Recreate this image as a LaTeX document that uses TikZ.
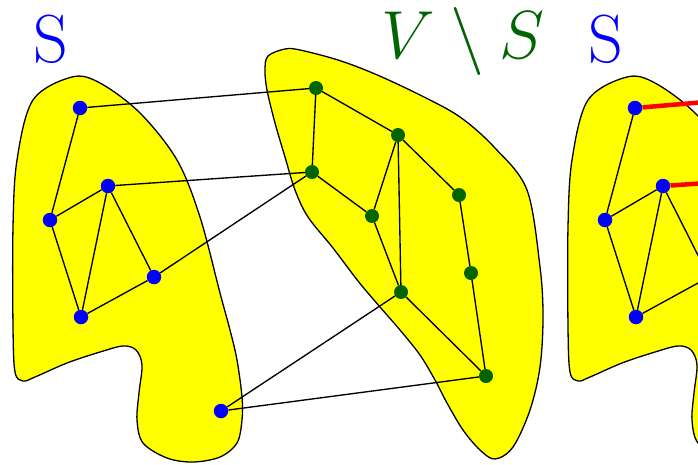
\documentclass[tikz,border=0pt]{standalone}
\usepackage{fix-cm}
\definecolor{sblue}{RGB}{0,0,255}
\definecolor{vgreen}{RGB}{0,100,0}
\definecolor{blobyellow}{RGB}{255,255,0}
\begin{document}
\begin{tikzpicture}[x=1pt,y=-1pt,
  blob/.style={draw=black, fill=blobyellow, line width=1.3pt},
  svert/.style={circle, fill=sblue, inner sep=0pt, minimum size=14.5pt},
  gvert/.style={circle, fill=vgreen, inner sep=0pt, minimum size=14pt},
  link/.style={draw=black, line width=1.35pt},
  cutlink/.style={draw=red, line width=4.5pt},
  lbl/.style={font=\fontsize{68}{80}\selectfont, inner sep=0pt, anchor=base}]

\useasboundingbox (0,0) rectangle (698,464);
\clip (0,0) rectangle (698,464);

\def\Sblobpath{plot[smooth cycle, tension=0.55] coordinates {
  (72,77) (100,83) (140,113) (177,160) (200,217) (220,293) (230,330)
  (237,360) (242,397) (242,420) (237,443) (220,457) (193,462) (167,458)
  (143,443) (137,420) (139,393) (142,365) (136,350) (123,346) (100,352)
  (67,363) (35,377) (23,381) (15,372) (13,327) (13,227) (17,160) (33,100)}}

% blobs
\path[blob] \Sblobpath;
\path[blob] plot[smooth cycle, tension=0.55] coordinates {
  (268,56) (285,49) (300,50) (338,60) (375,74) (420,95) (460,117)
  (495,148) (527,190) (540,267) (543,317) (540,367) (530,410) (513,447)
  (495,459) (480,450) (463,430) (447,403) (435,380) (420,355) (400,330)
  (380,307) (358,281) (333,248) (308,217) (295,190) (285,157) (275,123)
  (267,90) (265,70)};
\begin{scope}[xshift=555pt]
  \path[blob] \Sblobpath;
\end{scope}

% labels
\node[lbl, text=sblue] (slabel) at (51,62) {S};
\node[lbl, text=vgreen] (vslabel) at (463,58) {$V \setminus S$};
\node[lbl, text=sblue] (slabel2) at (606,62) {S};

% S vertices
\node[svert] (a) at (80,108) {};
\node[svert] (b) at (108,186) {};
\node[svert] (c) at (50,220) {};
\node[svert] (d) at (154,277) {};
\node[svert] (e) at (81,317) {};
\node[svert] (f) at (221,411) {};

% V\S vertices
\node[gvert] (g1) at (316,88) {};
\node[gvert] (g2) at (312,172) {};
\node[gvert] (g3) at (398,135) {};
\node[gvert] (g4) at (372,216) {};
\node[gvert] (g5) at (459,195) {};
\node[gvert] (g6) at (471,273) {};
\node[gvert] (g7) at (401,292) {};
\node[gvert] (g8) at (486,376) {};

% edges inside S
\draw[link] (a) -- (c);
\draw[link] (c) -- (b);
\draw[link] (c) -- (e);
\draw[link] (b) -- (e);
\draw[link] (b) -- (d);
\draw[link] (d) -- (e);

% edges inside V\S
\draw[link] (g1) -- (g2);
\draw[link] (g1) -- (g3);
\draw[link] (g2) -- (g4);
\draw[link] (g3) -- (g4);
\draw[link] (g3) -- (g7);
\draw[link] (g4) -- (g7);
\draw[link] (g3) -- (g5);
\draw[link] (g5) -- (g6);
\draw[link] (g6) -- (g8);
\draw[link] (g7) -- (g8);

% crossing edges
\draw[link] (a) -- (g1);
\draw[link] (b) -- (g2);
\draw[link] (d) -- (g2);
\draw[link] (f) -- (g7);
\draw[link] (f) -- (g8);

% right copy (cut off)
\coordinate (d2) at (709,277);
\coordinate (g1b) at (871,88);
\coordinate (g2b) at (867,172);
\node[svert] (a2) at (635,108) {};
\node[svert] (b2) at (663,186) {};
\node[svert] (c2) at (605,220) {};
\node[svert] (e2) at (636,317) {};
\draw[link] (a2) -- (c2);
\draw[link] (c2) -- (b2);
\draw[link] (c2) -- (e2);
\draw[link] (b2) -- (e2);
\draw[link] (b2) -- (d2);
\draw[link] (d2) -- (e2);
\draw[cutlink] (a2) -- (g1b);
\draw[cutlink] (b2) -- (g2b);
\end{tikzpicture}
\end{document}
